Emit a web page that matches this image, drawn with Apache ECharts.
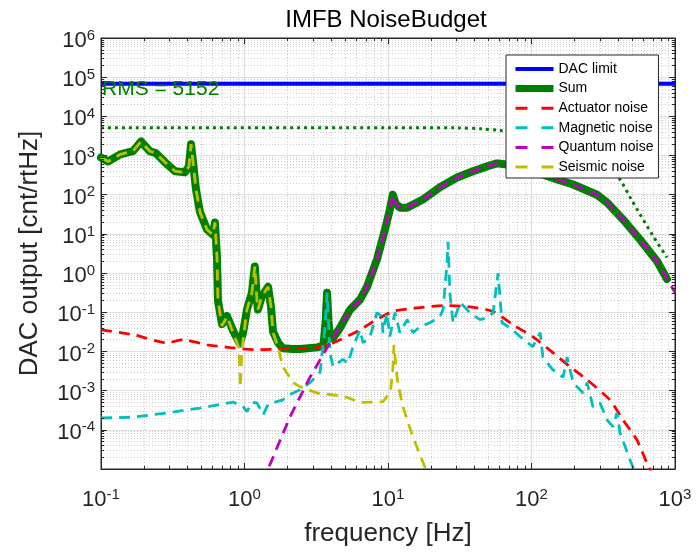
<!DOCTYPE html>
<html><head><meta charset="utf-8">
<script src="https://cdn.jsdelivr.net/npm/echarts@6/dist/echarts.min.js"></script>
<style>html,body{margin:0;padding:0;background:#fff}#c{width:697px;height:555px}</style>
</head><body><div id="c"></div>
<script>
// ---- data (frequency in Hz, values in cnt/rtHz) ----
const dacF = [0.1, 1000];
const dacV = [68000, 68000];

const rmsF = [0.1, 10, 30, 45, 60, 100, 150, 200, 300, 400, 500, 700, 880];
const rmsV = [5152, 5150, 5080, 4800, 4370, 3550, 2700, 2000, 900, 295, 72, 9.1, 2.5];

const sumF = [0.1, 0.112, 0.136, 0.167, 0.19, 0.219, 0.241, 0.279, 0.328, 0.385, 0.41, 0.424, 0.438, 0.459, 0.49, 0.548, 0.603, 0.622, 0.643, 0.653, 0.697, 0.755, 0.832,
  0.925, 0.977, 1.04, 1.127, 1.18, 1.22, 1.24, 1.32, 1.46, 1.53, 1.58, 1.71, 1.85, 2.18, 2.44, 3.2, 3.55, 3.68, 3.76, 3.85, 3.94, 4.14, 4.63, 5.43, 6.38,
  7.14, 8.38, 9.53, 10.3, 10.8, 11.3, 12.1, 13.6, 17.5, 23.0, 30.3, 39.1, 51.4, 57.5, 67.5, 93.1, 151, 195, 286, 336, 434, 570, 750, 879];
const sumV = [890, 708, 1070, 1290, 2290, 1290, 1150, 676, 398, 372, 525, 1950, 676, 138, 35.5, 12.9, 9.5, 19.5, 2.63, 0.2, 0.05, 0.08, 0.034,
  0.016, 0.03, 0.117, 0.316, 1.48, 0.209, 0.117, 0.251, 0.447, 0.138, 0.032, 0.017, 0.012, 0.0115, 0.0115, 0.0127, 0.014, 0.06, 0.316, 0.06, 0.022, 0.022, 0.04, 0.115, 0.21,
  0.447, 2.24, 12.9, 41.7, 100, 60, 46.8, 46.8, 75.9, 155, 275, 398, 562, 631, 589, 447, 245, 182, 100, 63, 23.4, 7.2, 2.0, 0.71];

const actF = [0.1, 0.167, 0.288, 0.372, 0.548, 0.792, 1.22, 1.85, 3.2, 4.14, 6.38, 7.86, 10.8, 16.7, 24.2, 37.3, 54, 74.3, 102, 141, 185, 244, 352, 434, 543, 638, 785];
const actV = [0.0355, 0.0269, 0.0166, 0.02, 0.0148, 0.0126, 0.011, 0.0117, 0.0126, 0.0166, 0.0355, 0.0575, 0.105, 0.132, 0.148, 0.138, 0.105, 0.048, 0.024, 0.0093, 0.0041, 0.0019, 5.8e-4, 1.8e-4, 5.5e-5, 1.4e-5, 3e-6];

const magF = [0.1, 0.167, 0.288, 0.49, 0.832, 0.977, 1.04, 1.127, 1.22, 1.35, 1.46, 1.58, 1.85, 2.07, 2.44, 2.86, 3.36, 3.64, 3.76, 3.94, 4.14, 4.86, 5.26, 5.7, 6.38,
  6.7, 7.5, 8.38, 9.08, 9.23, 9.84, 10.3, 11.2, 12.1, 13.6, 14.9, 16.7, 19.6, 23.0, 24.2, 25.8, 26.2, 27.0, 28.4, 31.8, 37.3, 43.7, 49.0, 54.0, 58.5,
  62.3, 70.8, 83.2, 102, 115, 120, 141, 166, 177, 195, 229, 244, 268, 300, 336, 370, 394, 414, 486, 570];
const magV = [2.0e-4, 2.1e-4, 2.7e-4, 3.6e-4, 5.1e-4, 3.9e-4, 2.9e-4, 5e-4, 4.9e-4, 2.4e-4, 4.5e-4, 4.9e-4, 5.8e-4, 7.9e-4, 1.05e-3, 1.6e-3, 2.9e-3, 0.043, 0.316, 0.0093, 0.0041, 0.0063, 0.005, 0.0132, 0.0355,
  0.0166, 0.024, 0.098, 0.078, 0.030, 0.098, 0.024, 0.098, 0.030, 0.065, 0.030, 0.043, 0.054, 0.078, 0.117, 1.86, 6.3, 0.3, 0.054, 0.178, 0.098, 0.065, 0.072, 0.098, 1.0,
  0.054, 0.04, 0.024, 0.0132, 0.030, 0.0072, 0.0034, 0.0022, 0.0072, 0.0016, 8.7e-4, 0.0016, 3.9e-4, 4.9e-4, 1.8e-4, 1.2e-4, 2.7e-4, 8.3e-5, 1.7e-5, 4e-6];

const quaF = [1.3, 1.46, 2.07, 2.86, 3.94, 5.43, 6.38, 7.14, 8.38, 9.53, 10.3, 10.8, 11.3, 12.1, 13.6, 17.5, 23.0, 30.3, 39.1, 51.4, 57.5, 67.5, 93.1, 151, 195, 286, 336, 434, 570, 750, 879, 1000];
const quaV = [1.5e-6, 1e-5, 2.1e-4, 0.0022, 0.0166, 0.11, 0.2, 0.447, 2.24, 12.9, 41.7, 100, 60, 46.8, 46.8, 75.9, 155, 275, 398, 562, 631, 589, 447, 245, 182, 100, 63, 23.4, 7.2, 2.0, 0.71, 0.32];

const seiF = [0.1, 0.112, 0.136, 0.167, 0.19, 0.219, 0.241, 0.279, 0.328, 0.385, 0.41, 0.424, 0.438, 0.459, 0.49, 0.548, 0.603, 0.622, 0.643, 0.653, 0.697, 0.755, 0.832, 0.917, 0.935,
  0.96, 1.04, 1.127, 1.18, 1.22, 1.24, 1.32, 1.46, 1.53, 1.58, 1.71, 1.85, 2.18, 2.44, 3.2, 4.63, 5.26, 6.38, 9.23, 10.4, 10.8, 11.0, 11.3, 11.7, 12.7, 14.9, 18.1, 20];
const seiV = [890, 708, 1070, 1290, 2290, 1290, 1150, 676, 398, 372, 525, 1950, 676, 138, 35.5, 12.9, 9.5, 19.5, 2.63, 0.2, 0.045, 0.078, 0.03, 0.012, 0.0012,
  0.012, 0.117, 0.316, 1.48, 0.209, 0.117, 0.251, 0.447, 0.138, 0.03, 0.0132, 0.0041, 0.0016, 0.00126, 0.00087, 0.00074, 0.00066, 0.0005, 0.00052, 0.00093, 0.0034, 0.0148, 0.005, 0.0016, 0.00039, 6.6e-5, 1.1e-5, 5e-6];

const legendNames = ['DAC limit', 'Sum', 'Actuator noise', 'Magnetic noise', 'Quantum noise', 'Seismic noise'];
const titleText = 'IMFB NoiseBudget';
const xName = 'frequency [Hz]';
const yName = 'DAC output [cnt/rtHz]';
const rmsText = 'RMS = 5152';

// ---- helpers ----
const zip = (f, v) => f.map((x, i) => [x, v[i]]);
const FONT = '"Liberation Sans", Arial, Helvetica, sans-serif';
const AX = '#262626';
function expLabel(v) {
  const e = Math.round(Math.log10(v));
  return '{b|10}{s|' + e + '}';
}
const rich = {
  b: { fontSize: 22, fontFamily: FONT, color: AX },
  s: { fontSize: 15, fontFamily: FONT, color: AX, verticalAlign: 'bottom', padding: [0, 0, 11, 0] }
};

// minor grid lines and minor ticks (positions 2..9 in each decade)
const xMin = [], yMin = [];
for (let d = -1; d < 3; d++) for (let k = 2; k <= 9; k++) xMin.push(k * Math.pow(10, d));
for (let d = -5; d < 6; d++) for (let k = 2; k <= 9; k++) yMin.push(k * Math.pow(10, d));
const gridLines = [];
const minorTicks = [];
xMin.forEach(x => {
  gridLines.push([{ coord: [x, 1e-5] }, { coord: [x, 1e6] }]);
  minorTicks.push([{ coord: [x, 1e-5] }, { coord: [x, 1.2e-5] }]);
  minorTicks.push([{ coord: [x, 1e6] }, { coord: [x, 1e6 / 1.2] }]);
});
yMin.forEach(y => {
  gridLines.push([{ coord: [0.1, y] }, { coord: [1000, y] }]);
  minorTicks.push([{ coord: [0.1, y] }, { coord: [0.1 * 1.05, y] }]);
  minorTicks.push([{ coord: [1000, y] }, { coord: [1000 / 1.05, y] }]);
});

const dashed = (color) => ({ color, width: 2.8, type: [11, 7], cap: 'butt' });
const axisCommon = {
  axisLine: { show: true, lineStyle: { color: AX, width: 1 } },
  axisTick: { show: true, inside: true, length: 6, lineStyle: { color: AX } }
};
const legendLine = [
  { width: 4, type: 'solid' }, { width: 7, type: 'solid', cap: 'butt' },
  { width: 3, type: [12, 14] }, { width: 3, type: [12, 14] }, { width: 3, type: [12, 14] }, { width: 3, type: [12, 14] }
];

const chart = echarts.init(document.getElementById('c'), null, { renderer: 'canvas' });
chart.setOption({
  animation: false,
  backgroundColor: '#fff',
  textStyle: { fontFamily: FONT },
  grid: { left: 101, right: 22, top: 38, bottom: 86, show: true, borderColor: AX, borderWidth: 1, backgroundColor: 'transparent' },
  xAxis: [Object.assign({
    type: 'log', logBase: 10, min: 0.1, max: 1000, interval: 1, splitNumber: 4,
    name: xName, nameLocation: 'middle', nameGap: 52,
    nameTextStyle: { fontSize: 26, color: AX, fontFamily: FONT },
    axisLabel: { formatter: expLabel, rich, margin: 18, color: AX },
    splitLine: { show: true, lineStyle: { color: '#dedede', width: 1 } }
  }, axisCommon), Object.assign({
    type: 'log', logBase: 10, min: 0.1, max: 1000, interval: 1, splitNumber: 4, position: 'top',
    axisLabel: { show: false }, splitLine: { show: false }
  }, axisCommon)],
  yAxis: [Object.assign({
    type: 'log', logBase: 10, min: 1e-5, max: 1e6, interval: 1, splitNumber: 11,
    name: yName, nameLocation: 'middle', nameGap: 58,
    nameTextStyle: { fontSize: 26, color: AX, fontFamily: FONT },
    axisLabel: {
      formatter: v => (Math.round(Math.log10(v)) === -5 ? '' : expLabel(v)),
      rich, margin: 6, color: AX, padding: [6, 0, 0, 0]
    },
    splitLine: { show: true, lineStyle: { color: '#dedede', width: 1 } }
  }, axisCommon), Object.assign({
    type: 'log', logBase: 10, min: 1e-5, max: 1e6, interval: 1, splitNumber: 11, position: 'right',
    axisLabel: { show: false }, splitLine: { show: false }
  }, axisCommon)],
  legend: {
    data: legendNames.map((n, i) => ({ name: n, lineStyle: legendLine[i] })),
    orient: 'vertical', left: 506, top: 55,
    padding: [7, 5, 4, 6], itemWidth: 38, itemHeight: 12, itemGap: 5.6,
    backgroundColor: '#fff', borderColor: AX, borderWidth: 1, borderRadius: 0,
    itemStyle: { opacity: 0 },
    textStyle: { fontSize: 14, color: '#000', fontFamily: FONT },
    selectedMode: false, z: 20
  },
  graphic: [
    { type: 'text', x: 386, y: 8, z: 30,
      style: { text: titleText, fontSize: 24, fill: '#000', fontFamily: FONT, align: 'center', verticalAlign: 'top' } },
    { type: 'text', x: 102, y: 79, z: 30,
      style: { text: rmsText, fontSize: 21, fill: '#008000', fontFamily: FONT, align: 'left', verticalAlign: 'top' } }
  ],
  series: [
    { type: 'line', name: '_grid', data: [], silent: true, z: 1,
      markLine: { silent: true, z: 1, symbol: 'none', label: { show: false }, animation: false,
        lineStyle: { color: '#cfcfcf', width: 1, type: [1, 2] }, data: gridLines } },
    { type: 'line', name: '_ticks', data: [], silent: true, z: 1,
      markLine: { silent: true, z: 10, symbol: 'none', label: { show: false }, animation: false,
        lineStyle: { color: AX, width: 1, type: 'solid' }, data: minorTicks } },
    { type: 'line', name: 'DAC limit', data: zip(dacF, dacV), symbol: 'none', z: 3,
      lineStyle: { color: '#0000ff', width: 4 }, itemStyle: { color: '#0000ff' } },
    { type: 'line', name: 'Sum', data: zip(sumF, sumV), symbol: 'none', z: 3,
      lineStyle: { color: '#008000', width: 8, join: 'round', cap: 'round' }, itemStyle: { color: '#008000' } },
    { type: 'line', name: 'RMS', data: zip(rmsF, rmsV), symbol: 'none', z: 3, smooth: 0.3,
      lineStyle: { color: '#008000', width: 3, type: [3, 4] }, itemStyle: { color: '#008000' } },
    { type: 'line', name: 'Actuator noise', data: zip(actF, actV), symbol: 'none', z: 4, smooth: 0.2,
      lineStyle: dashed('#ff0000'), itemStyle: { color: '#ff0000' } },
    { type: 'line', name: 'Magnetic noise', data: zip(magF, magV), symbol: 'none', z: 4,
      lineStyle: dashed('#00bfbf'), itemStyle: { color: '#00bfbf' } },
    { type: 'line', name: 'Quantum noise', data: zip(quaF, quaV), symbol: 'none', z: 4,
      lineStyle: dashed('#bf00bf'), itemStyle: { color: '#bf00bf' } },
    { type: 'line', name: 'Seismic noise', data: zip(seiF, seiV), symbol: 'none', z: 4,
      lineStyle: dashed('#bfbf00'), itemStyle: { color: '#bfbf00' } }
  ]
});
</script></body></html>
